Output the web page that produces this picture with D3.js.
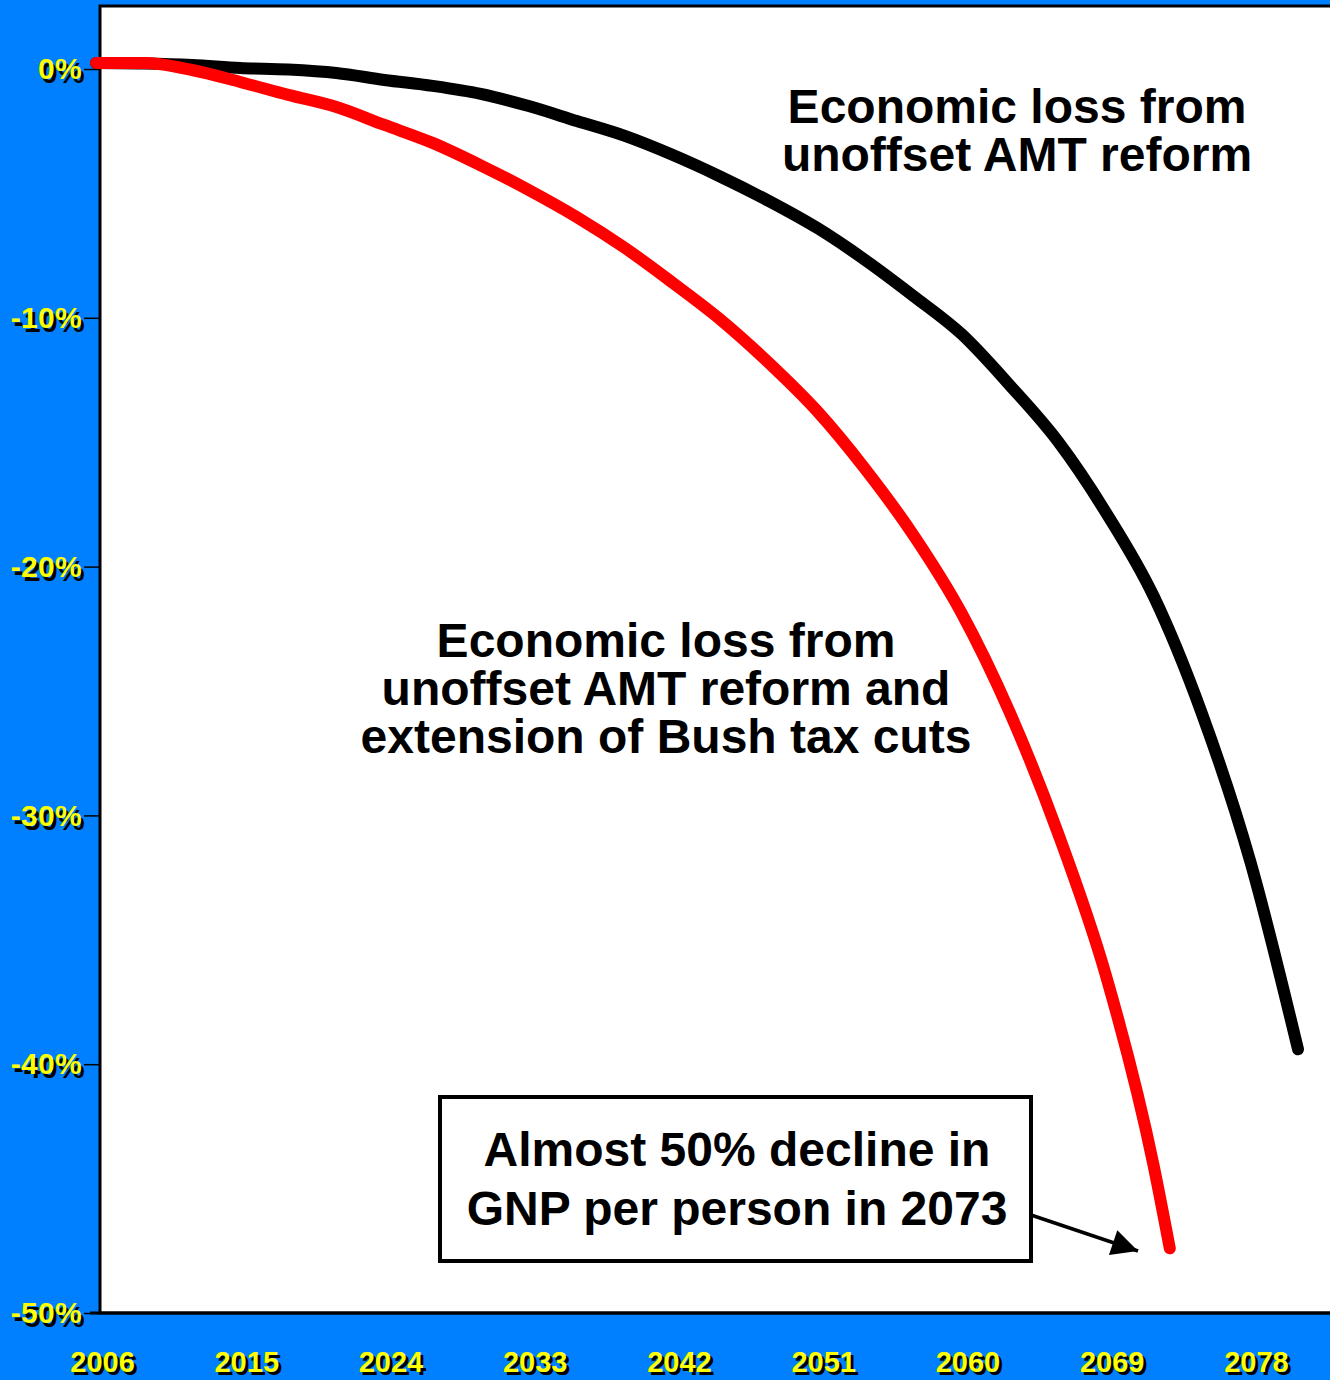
<!DOCTYPE html>
<html>
<head>
<meta charset="utf-8">
<script src="https://cdn.jsdelivr.net/npm/d3@7"></script>
<style>
  html, body { margin: 0; padding: 0; background: #0080FF; }
  svg { display: block; }
  text { font-family: "Liberation Sans", Arial, sans-serif; font-weight: bold; }
</style>
</head>
<body>
<script>
// Years shown on the horizontal axis
const tickYears = [2006, 2015, 2024, 2033, 2042, 2051, 2060, 2069, 2078];
// Vertical axis ticks (percent change in GNP per person)
const tickPercents = [0, -10, -20, -30, -40, -50];

// Economic loss from unoffset AMT reform (percent change)
const amtYears = [2006, 2009, 2012, 2015, 2018, 2021, 2024, 2027, 2030, 2033, 2036, 2039, 2042,
                  2045, 2048, 2051, 2054, 2057, 2060, 2063, 2066, 2069, 2072, 2075, 2078, 2081];
const amtLoss  = [0.24, 0.22, 0.16, 0.04, -0.02, -0.16, -0.44, -0.68, -1.0, -1.49, -2.09, -2.69, -3.46,
                  -4.34, -5.31, -6.39, -7.68, -9.12, -10.65, -12.7, -14.95, -17.81, -21.2, -25.9, -31.8, -39.4];

// Economic loss from unoffset AMT reform and extension of Bush tax cuts
const bushYears = [2006, 2009, 2012, 2015, 2018, 2021, 2024, 2027, 2030, 2033, 2036, 2039, 2042,
                   2045, 2048, 2051, 2054, 2057, 2060, 2063, 2066, 2069, 2072, 2073];
const bushLoss  = [0.24, 0.24, -0.04, -0.52, -1.04, -1.53, -2.25, -2.97, -3.87, -4.86, -5.95, -7.19, -8.6,
                   -10.09, -11.82, -13.75, -16.08, -18.73, -21.86, -25.84, -30.67, -36.4, -44.1, -47.4];

const W = 1330, H = 1380;
const plot = { left: 100, top: 6, bottom: 1313 };

const svg = d3.select("body").append("svg").attr("width", W).attr("height", H);

svg.append("rect").attr("width", W).attr("height", H).attr("fill", "#0080FF");

// plot area
svg.append("rect")
  .attr("x", plot.left).attr("y", plot.top)
  .attr("width", W - plot.left + 20).attr("height", plot.bottom - plot.top)
  .attr("fill", "#fff").attr("stroke", "#000").attr("stroke-width", 3);

const x = d3.scaleLinear().domain([2006, 2081]).range([96, 1298]);
const y = d3.scaleLinear().domain([-50, 0]).range([plot.bottom, 69]);

// add a black drop shadow behind each yellow tick label
function shadowLabels(g, dx, dy) {
  g.selectAll(".tick text").each(function () {
    const t = d3.select(this);
    const clone = this.cloneNode(true);
    this.parentNode.insertBefore(clone, this);
    d3.select(clone)
      .attr("fill", "#000")
      .attr("transform", `translate(${dx},${dy})`);
    t.attr("fill", "#FFFF00");
  });
}

// vertical axis
const yAxis = svg.append("g")
  .attr("transform", `translate(${plot.left},0)`)
  .call(d3.axisLeft(y).tickValues(tickPercents).tickFormat(d => d + "%")
          .tickSize(16).tickPadding(2));
yAxis.select(".domain").remove();
yAxis.selectAll(".tick line").attr("stroke", "#000").attr("stroke-width", 1.5);
yAxis.selectAll(".tick text").attr("font-size", 30).attr("font-weight", "bold")
  .attr("font-family", "Liberation Sans, Arial, sans-serif").attr("letter-spacing", "0.3");
shadowLabels(yAxis, 3, 4);

// horizontal axis
const xAxis = svg.append("g")
  .attr("transform", `translate(0,${plot.bottom})`)
  .call(d3.axisBottom(x).tickValues(tickYears).tickFormat(d3.format("d"))
          .tickSize(0).tickPadding(38));
xAxis.select(".domain").remove();
xAxis.selectAll(".tick text").attr("font-size", 29).attr("font-weight", "bold")
  .attr("font-family", "Liberation Sans, Arial, sans-serif").attr("dx", 6);
shadowLabels(xAxis, 3, 3);

// redraw bottom border over the plot edge
svg.append("line")
  .attr("x1", 90).attr("x2", W).attr("y1", plot.bottom).attr("y2", plot.bottom)
  .attr("stroke", "#000").attr("stroke-width", 3);

const line = d3.line().x(d => x(d[0])).y(d => y(d[1])).curve(d3.curveMonotoneX);

svg.append("path")
  .datum(d3.zip(amtYears, amtLoss))
  .attr("d", line)
  .attr("fill", "none").attr("stroke", "#000").attr("stroke-width", 12)
  .attr("stroke-linecap", "round").attr("stroke-linejoin", "round");

svg.append("path")
  .datum(d3.zip(bushYears, bushLoss))
  .attr("d", line)
  .attr("fill", "none").attr("stroke", "#FF0000").attr("stroke-width", 12)
  .attr("stroke-linecap", "round").attr("stroke-linejoin", "round");

// annotations
function block(lines, cx, baseline, step) {
  const t = svg.append("text").attr("text-anchor", "middle").attr("font-size", 48).attr("fill", "#000");
  lines.forEach((s, i) => t.append("tspan").attr("x", cx).attr("y", baseline + i * step).text(s));
}
block(["Economic loss from", "unoffset AMT reform"], 1017, 123, 48);
block(["Economic loss from", "unoffset AMT reform and", "extension of Bush tax cuts"], 666, 657, 48);

svg.append("rect")
  .attr("x", 440).attr("y", 1097).attr("width", 591).attr("height", 164)
  .attr("fill", "#fff").attr("stroke", "#000").attr("stroke-width", 4);
block(["Almost 50% decline in", "GNP per person in 2073"], 737, 1166, 59);

// arrow toward the 2073 point
svg.append("defs").append("marker")
  .attr("id", "head").attr("viewBox", "0 0 10 10")
  .attr("refX", 10).attr("refY", 5)
  .attr("markerWidth", 9).attr("markerHeight", 7.5)
  .attr("markerUnits", "strokeWidth")
  .attr("orient", "auto")
  .append("path").attr("d", "M0,0 L10,5 L0,10 Z").attr("fill", "#000");

svg.append("line")
  .attr("x1", 1031).attr("y1", 1215).attr("x2", 1138).attr("y2", 1251)
  .attr("stroke", "#000").attr("stroke-width", 3.5)
  .attr("marker-end", "url(#head)");
</script>
</body>
</html>
